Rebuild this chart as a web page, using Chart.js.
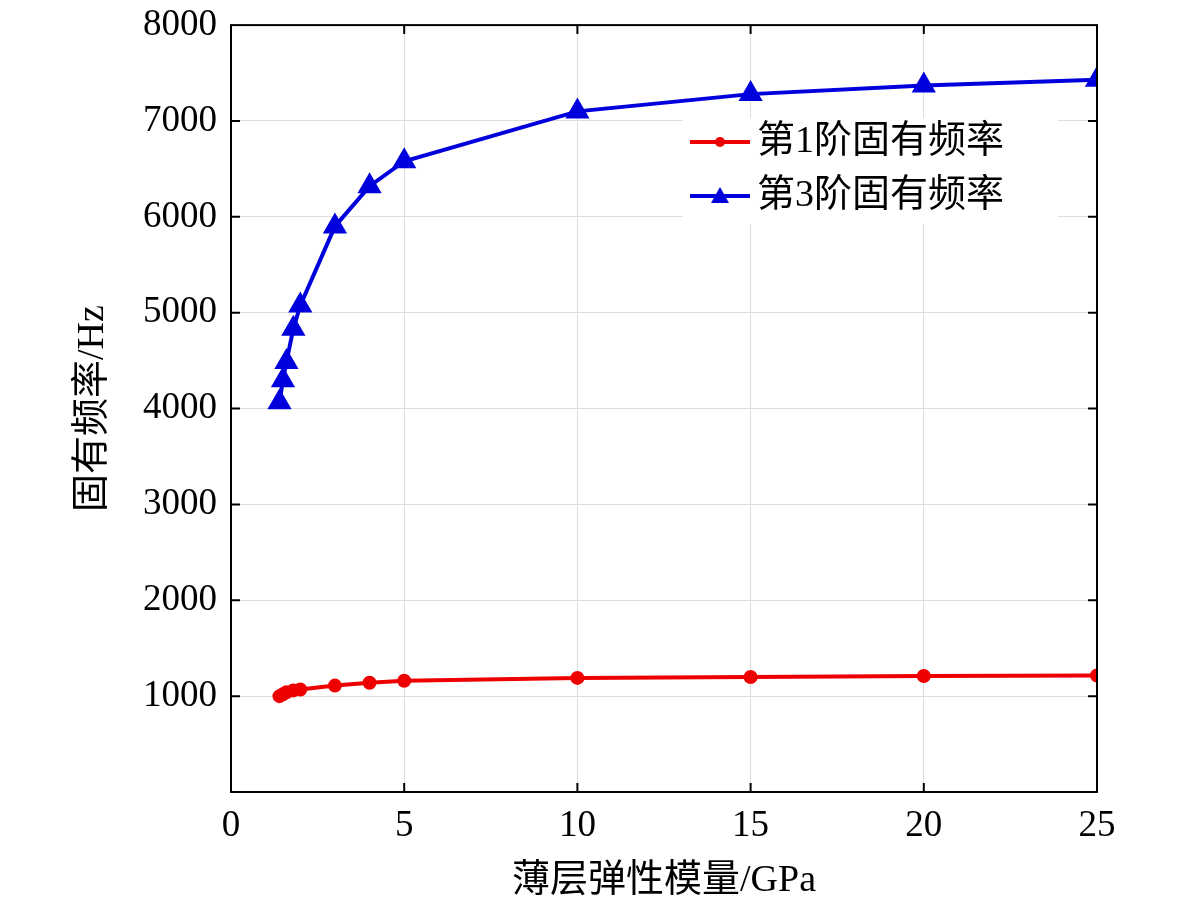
<!DOCTYPE html>
<html>
<head>
<meta charset="utf-8">
<script src="https://cdn.jsdelivr.net/npm/chart.js@4"></script>
<style>
  body { margin: 0; background: #fff; }
  #wrap { width: 1181px; height: 908px; }
</style>
</head>
<body>
<div id="wrap"><canvas id="freqChart"></canvas></div>
<script>
const modulus = [1.4, 1.5, 1.6, 1.8, 2, 3, 4, 5, 10, 15, 20, 25];
const freq1 = [1000, 1020, 1040, 1060, 1070, 1110, 1140, 1160, 1190, 1200, 1210, 1215];
const freq3 = [4067, 4296, 4486, 4833, 5076, 5900, 6320, 6580, 7100, 7280, 7370, 7430];
const seriesNames = ['第1阶固有频率', '第3阶固有频率'];

const serif = "'Liberation Serif', 'Noto Sans CJK SC', serif";

const framePlugin = {
    id: 'frame',
    afterDraw(chart) {
        const { ctx, chartArea: a } = chart;
        ctx.save();
        ctx.strokeStyle = '#000';
        ctx.lineWidth = 2;
        ctx.strokeRect(a.left, a.top, a.right - a.left, a.bottom - a.top);
        // inward ticks on all four sides
        const xs = chart.scales.x, ys = chart.scales.y;
        ctx.beginPath();
        [5, 10, 15, 20].forEach(v => {
            const px = xs.getPixelForValue(v);
            ctx.moveTo(px, a.bottom); ctx.lineTo(px, a.bottom - 9);
            ctx.moveTo(px, a.top); ctx.lineTo(px, a.top + 9);
        });
        for (let v = 1000; v < 8000; v += 1000) {
            const py = ys.getPixelForValue(v);
            ctx.moveTo(a.left, py); ctx.lineTo(a.left + 9, py);
            ctx.moveTo(a.right, py); ctx.lineTo(a.right - 9, py);
        }
        ctx.stroke();

        // legend box inside plot
        const lx = 683, ly = 118;
        ctx.fillStyle = '#fff';
        ctx.fillRect(lx, ly, 375, 106);
        chart.data.datasets.forEach((ds, i) => {
            const y = ly + 24 + i * 54;
            ctx.strokeStyle = ds.borderColor;
            ctx.lineWidth = 4;
            ctx.beginPath(); ctx.moveTo(690, y); ctx.lineTo(750, y); ctx.stroke();
            ctx.fillStyle = ds.backgroundColor;
            ctx.beginPath();
            if (ds.pointStyle === 'triangle') {
                ctx.moveTo(720, y - 9); ctx.lineTo(729, y + 7); ctx.lineTo(711, y + 7);
            } else {
                ctx.arc(720, y, 5, 0, Math.PI * 2);
            }
            ctx.fill();
            ctx.fillStyle = '#000';
            ctx.font = "38px " + serif;
            ctx.textBaseline = 'middle';
            ctx.fillText(ds.label, 757, y);
        });
        ctx.restore();
    }
};

new Chart(document.getElementById('freqChart').getContext('2d'), {
    type: 'line',
    data: {
        datasets: [{
            label: seriesNames[0],
            data: modulus.map((x, i) => ({ x: x, y: freq1[i] })),
            borderColor: '#ee0000',
            backgroundColor: '#ee0000',
            borderWidth: 4,
            pointStyle: 'circle',
            pointRadius: 5,
            tension: 0
        }, {
            label: seriesNames[1],
            data: modulus.map((x, i) => ({ x: x, y: freq3[i] })),
            borderColor: '#0000dd',
            backgroundColor: '#0000dd',
            borderWidth: 4,
            pointStyle: 'triangle',
            pointRadius: 10,
            tension: 0
        }]
    },
    options: {
        responsive: true,
        maintainAspectRatio: false,
        animation: false,
        layout: { padding: { top: 2, right: 84, left: 66 } },
        plugins: {
            legend: { display: false },
            tooltip: { enabled: false }
        },
        scales: {
            x: {
                type: 'linear',
                min: 0,
                max: 25,
                ticks: {
                    stepSize: 5,
                    color: '#000',
                    font: { size: 37, family: serif },
                    padding: 12
                },
                grid: { color: '#dddddd', drawTicks: false },
                border: { display: false },
                title: {
                    display: true,
                    text: '薄层弹性模量/GPa',
                    color: '#000',
                    font: { size: 38, family: serif },
                    padding: { top: 0 }
                },
                afterFit(s) { s.height = 116; }
            },
            y: {
                min: 0,
                max: 8000,
                ticks: {
                    stepSize: 1000,
                    color: '#000',
                    font: { size: 37, family: serif, lineHeight: 0.6 },
                    padding: 14,
                    callback: v => v === 0 ? '' : v
                },
                grid: { color: '#dddddd', drawTicks: false },
                border: { display: false },
                title: {
                    display: true,
                    text: '固有频率/Hz',
                    color: '#000',
                    font: { size: 38, family: serif },
                    padding: { bottom: 6 }
                },
                afterFit(s) { s.width = 165; }
            }
        }
    },
    plugins: [framePlugin]
});
</script>
</body>
</html>
